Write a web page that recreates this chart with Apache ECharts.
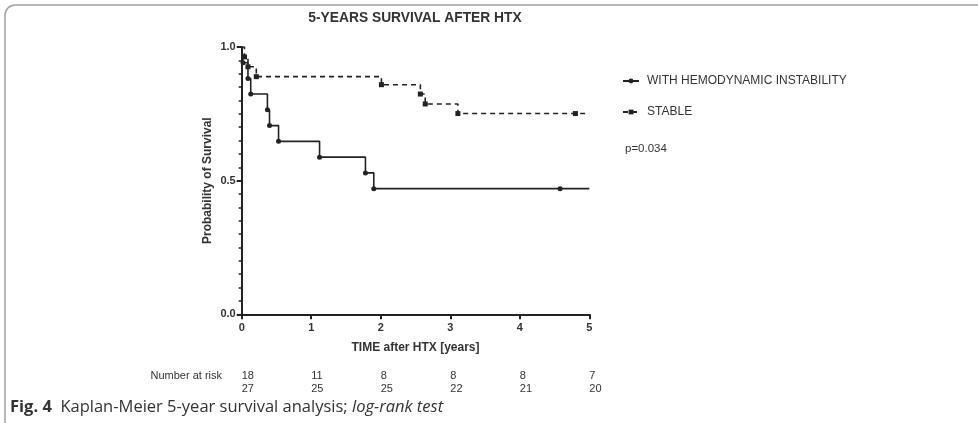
<!DOCTYPE html>
<html>
<head>
<meta charset="utf-8">
<script src="https://cdn.jsdelivr.net/npm/echarts@6/dist/echarts.min.js"></script>
<style>
  html, body { margin: 0; padding: 0; background: #fff; }
  #chart { width: 978px; height: 423px; }
</style>
</head>
<body>
<div id="chart"></div>
<script>
// Kaplan-Meier steps: time in years, survival probability after each step
const unstableTimes = [0, 0.02, 0.09, 0.13, 0.37, 0.40, 0.53, 1.12, 1.78, 1.90, 4.58, 5];
const unstableSurv  = [1.0, 0.941, 0.882, 0.824, 0.765, 0.706, 0.647, 0.588, 0.529, 0.470, 0.470, 0.470];
const stableTimes = [0, 0.04, 0.09, 0.21, 2.01, 2.57, 2.64, 3.11, 4.80, 5];
const stableSurv  = [1.0, 0.963, 0.926, 0.889, 0.859, 0.824, 0.787, 0.751, 0.751, 0.751];

const seriesNames = ['WITH HEMODYNAMIC INSTABILITY', 'STABLE'];

// Number-at-risk table
const riskTimes = [0, 1, 2, 3, 4, 5];
const riskUnstable = [18, 11, 8, 8, 8, 7];
const riskStable = [27, 25, 25, 22, 21, 20];

const yTicks = { '0': '0.0', '0.5': '0.5', '1': '1.0' };

const ink = '#222';
const textInk = '#333';
const font = '"Liberation Sans", Arial, sans-serif';

function steps(times, surv) {
  // first and last point carry no symbol; every drop and censor mark does
  return times.map((t, i) => ({
    value: [t, surv[i]],
    symbol: (i === 0 || i === times.length - 1) ? 'none' : undefined
  }));
}

const chart = echarts.init(document.getElementById('chart'), null, { renderer: 'canvas' });

const option = {
  animation: false,
  backgroundColor: '#fff',
  textStyle: { fontFamily: font },
  title: {
    text: '5-YEARS SURVIVAL AFTER HTX',
    left: 410, top: 6, textAlign: 'center',
    textStyle: { fontFamily: font, fontSize: 13.8, fontWeight: 'bold', color: textInk }
  },
  grid: { left: 241.7, right: 388.7, top: 47, bottom: 108.7, containLabel: false },
  legend: {
    orient: 'vertical',
    left: 617, top: 70,
    itemWidth: 16, itemHeight: 6, itemGap: 19,
    data: seriesNames,
    textStyle: { fontFamily: font, fontSize: 12, color: textInk, padding: [0, 0, 0, 3] }
  },
  xAxis: {
    type: 'value', min: 0, max: 5, interval: 1,
    name: 'TIME after HTX [years]', nameLocation: 'middle', nameGap: 27,
    nameTextStyle: { fontFamily: font, fontSize: 12, fontWeight: 'bold', color: textInk },
    axisLine: { onZero: false, lineStyle: { color: ink, width: 2 } },
    axisTick: { length: 5, lineStyle: { color: ink, width: 2 } },
    axisLabel: { margin: 8, fontFamily: font, fontSize: 11, fontWeight: 'bold', color: textInk },
    splitLine: { show: false }
  },
  yAxis: {
    type: 'value', min: 0, max: 1, interval: 0.5,
    name: 'Probability of Survival', nameLocation: 'middle', nameGap: 28,
    nameTextStyle: { fontFamily: font, fontSize: 12, fontWeight: 'bold', color: textInk },
    axisLine: { show: true, onZero: false, lineStyle: { color: ink, width: 2 } },
    axisTick: { show: true, length: 5, lineStyle: { color: ink, width: 2 } },
    minorTick: { show: true, splitNumber: 10, length: 3, lineStyle: { color: ink, width: 1.5 } },
    axisLabel: {
      margin: 6, fontFamily: font, fontSize: 11, fontWeight: 'bold', color: textInk,
      formatter: v => yTicks[String(v)] ?? ''
    },
    splitLine: { show: false }
  },
  series: [
    {
      name: seriesNames[0], type: 'line', step: 'end',
      data: steps(unstableTimes, unstableSurv),
      symbol: 'circle', symbolSize: 5, showAllSymbol: true,
      lineStyle: { color: ink, width: 1.6 },
      itemStyle: { color: ink }
    },
    {
      name: seriesNames[1], type: 'line', step: 'end',
      data: steps(stableTimes, stableSurv),
      symbol: 'rect', symbolSize: 5, showAllSymbol: true,
      lineStyle: { color: ink, width: 1.6, type: [5, 4] },
      itemStyle: { color: ink }
    }
  ]
};

chart.setOption(option);

// Frame, annotations and the number-at-risk table
const riskFont = '11px ' + font;
const captionFont = '"Open Sans", "Noto Sans", sans-serif';
const gfx = [
  {
    type: 'rect', silent: true,
    shape: { x: 5, y: 5, width: 1200, height: 800, r: [10, 0, 0, 0] },
    style: { fill: 'none', stroke: '#a0a0a0', lineWidth: 1.5 }
  },
  {
    type: 'text', left: 625, top: 143,
    style: { text: 'p=0.034', font: '11.5px ' + font, fill: textInk }
  },
  {
    type: 'text', x: 222, y: 376,
    style: { text: 'Number at risk', font: riskFont, fill: textInk, align: 'right', verticalAlign: 'middle' }
  },
  {
    type: 'text', x: 10, y: 407,
    style: {
      text: '{b|Fig. 4}  Kaplan-Meier 5-year survival analysis; {i|log-rank test}',
      font: '16.5px ' + captionFont, fill: '#333', verticalAlign: 'middle',
      rich: {
        b: { fontFamily: captionFont, fontWeight: 'bold', fontSize: 16.5, fill: '#333' },
        i: { fontFamily: captionFont, fontStyle: 'italic', fontSize: 16.5, fill: '#333' }
      }
    }
  }
];
riskTimes.forEach((t, i) => {
  const x = chart.convertToPixel({ xAxisIndex: 0 }, t);
  gfx.push({
    type: 'text', x: x, y: 376,
    style: { text: String(riskUnstable[i]), font: riskFont, fill: textInk, align: 'left', verticalAlign: 'middle' }
  });
  gfx.push({
    type: 'text', x: x, y: 389,
    style: { text: String(riskStable[i]), font: riskFont, fill: textInk, align: 'left', verticalAlign: 'middle' }
  });
});
chart.setOption({ graphic: gfx });
</script>
</body>
</html>
